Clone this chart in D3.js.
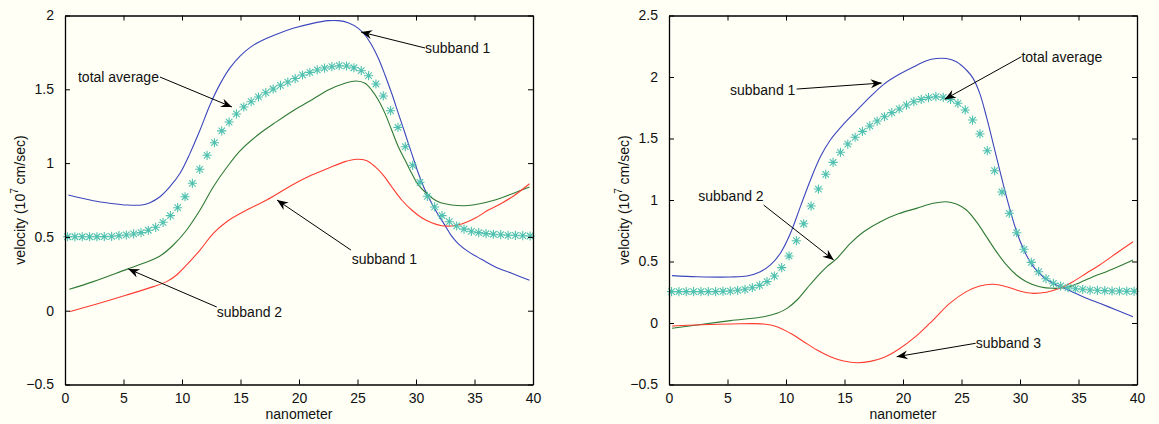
<!DOCTYPE html>
<html>
<head>
<meta charset="utf-8">
<script src="https://cdn.jsdelivr.net/npm/d3@7"></script>
<style>
  html, body { margin: 0; padding: 0; background: #fffff5; }
  svg { display: block; font-family: "Liberation Sans", Arial, Helvetica, sans-serif; }
</style>
</head>
<body>
<svg id="fig" width="1159" height="424"></svg>
<script>
// ---------------- data ----------------
const xTicks = [0, 5, 10, 15, 20, 25, 30, 35, 40];
const leftYTicks = [-0.5, 0, 0.5, 1, 1.5, 2];
const rightYTicks = [-0.5, 0, 0.5, 1, 1.5, 2, 2.5];

// sample positions (nm) of the averaged velocity
const averageX = d3.range(64).map(i => 0.22 + i * 0.6275);

// left figure
const leftAverage = [
  0.501, 0.501, 0.501, 0.501, 0.501, 0.502, 0.504, 0.508, 0.513, 0.520,
  0.529, 0.545, 0.565, 0.599, 0.644, 0.698, 0.772, 0.863, 0.958, 1.053,
  1.138, 1.218, 1.278, 1.333, 1.380, 1.416, 1.448, 1.477, 1.502, 1.527,
  1.549, 1.573, 1.597, 1.615, 1.631, 1.644, 1.653, 1.660, 1.658, 1.646,
  1.626, 1.592, 1.536, 1.455, 1.355, 1.242, 1.111, 0.985, 0.870, 0.775,
  0.703, 0.644, 0.603, 0.574, 0.553, 0.538, 0.529, 0.522, 0.518, 0.515,
  0.511, 0.511, 0.508, 0.506
];
const leftBlue = [
  [0.28, 0.784], [2.42, 0.745], [3.85, 0.728], [5.27, 0.716], [6.55, 0.716],
  [7.26, 0.732], [8.12, 0.772], [8.97, 0.840], [9.83, 0.931], [10.68, 1.066],
  [11.54, 1.224], [12.39, 1.394], [13.25, 1.535], [14.10, 1.645], [14.96, 1.725],
  [15.80, 1.782], [16.67, 1.824], [18.09, 1.873], [19.50, 1.913], [21.08, 1.945],
  [22.50, 1.965], [23.36, 1.965], [24.20, 1.951], [25.07, 1.913], [25.64, 1.868],
  [26.21, 1.800], [26.78, 1.710], [27.35, 1.597], [27.92, 1.473], [28.49, 1.337],
  [29.06, 1.202], [29.63, 1.066], [30.20, 0.931], [30.77, 0.818], [31.34, 0.728],
  [31.91, 0.648], [32.48, 0.578], [33.05, 0.505], [33.60, 0.455], [34.47, 0.400],
  [35.60, 0.348], [36.75, 0.298], [38.18, 0.253], [39.70, 0.206]
];
const leftGreen = [
  [0.37, 0.145], [2.42, 0.197], [5.27, 0.280], [6.70, 0.321], [8.12, 0.371],
  [9.26, 0.445], [10.40, 0.547], [11.54, 0.682], [12.68, 0.840], [13.82, 0.970],
  [14.96, 1.083], [16.67, 1.202], [18.09, 1.281], [19.60, 1.360], [21.08, 1.428],
  [22.50, 1.495], [23.93, 1.541], [24.90, 1.556], [25.64, 1.541], [26.21, 1.495],
  [26.78, 1.428], [27.35, 1.337], [27.92, 1.224], [28.49, 1.111], [29.06, 1.021],
  [29.63, 0.931], [30.20, 0.852], [31.05, 0.784], [31.91, 0.738], [33.05, 0.716],
  [34.19, 0.711], [35.33, 0.723], [36.75, 0.750], [38.18, 0.791], [39.70, 0.838]
];
const leftRed = [
  [0.37, -0.007], [2.42, 0.039], [5.27, 0.106], [7.55, 0.163], [8.69, 0.197],
  [9.54, 0.242], [10.40, 0.310], [11.54, 0.411], [12.68, 0.524], [13.82, 0.603],
  [15.53, 0.682], [17.24, 0.750], [19.50, 0.855], [21.08, 0.919], [22.50, 0.965],
  [23.93, 1.010], [24.90, 1.026], [25.75, 1.017], [26.50, 0.976], [27.20, 0.919],
  [27.92, 0.840], [28.78, 0.750], [29.63, 0.682], [30.49, 0.630], [31.34, 0.596],
  [32.20, 0.576], [33.05, 0.574], [33.90, 0.587], [35.04, 0.626], [36.18, 0.682],
  [37.32, 0.728], [38.46, 0.784], [39.70, 0.860]
];

// right figure
const rightAverage = [
  0.255, 0.255, 0.255, 0.255, 0.255, 0.255, 0.255, 0.258, 0.260, 0.266,
  0.274, 0.287, 0.306, 0.336, 0.382, 0.450, 0.545, 0.669, 0.807, 0.951,
  1.089, 1.209, 1.306, 1.388, 1.455, 1.510, 1.558, 1.602, 1.642, 1.677,
  1.710, 1.740, 1.772, 1.799, 1.818, 1.832, 1.840, 1.835, 1.818, 1.786,
  1.732, 1.650, 1.537, 1.401, 1.238, 1.065, 0.892, 0.734, 0.599, 0.493,
  0.417, 0.360, 0.323, 0.301, 0.287, 0.279, 0.274, 0.268, 0.266, 0.263,
  0.260, 0.260, 0.258, 0.258
];
const rightBlue = [
  [0.26, 0.385], [2.39, 0.376], [5.25, 0.374], [6.67, 0.382], [7.81, 0.417],
  [8.67, 0.472], [9.52, 0.567], [10.38, 0.729], [11.23, 0.946], [12.09, 1.163],
  [12.94, 1.352], [13.79, 1.488], [14.93, 1.618], [16.07, 1.730], [17.21, 1.840],
  [18.35, 1.940], [19.49, 2.012], [20.85, 2.080], [22.00, 2.132], [22.85, 2.150],
  [23.71, 2.150], [24.56, 2.124], [25.42, 2.057], [25.99, 1.989], [26.56, 1.867],
  [27.13, 1.677], [27.70, 1.461], [28.26, 1.244], [28.84, 1.027], [29.40, 0.837],
  [29.97, 0.675], [30.54, 0.553], [31.11, 0.463], [31.97, 0.376], [33.11, 0.309],
  [33.97, 0.275], [35.39, 0.214], [36.81, 0.160], [38.24, 0.106], [39.66, 0.051]
];
const rightGreen = [
  [0.26, -0.043], [2.39, -0.016], [5.25, 0.019], [8.09, 0.051], [9.23, 0.079],
  [10.09, 0.119], [10.94, 0.187], [11.79, 0.282], [12.65, 0.376], [13.50, 0.458],
  [14.36, 0.526], [15.50, 0.648], [16.64, 0.742], [18.07, 0.824], [19.60, 0.888],
  [21.15, 0.932], [22.57, 0.973], [23.71, 0.986], [24.56, 0.967], [25.42, 0.919],
  [26.27, 0.824], [27.13, 0.702], [27.98, 0.580], [28.84, 0.472], [29.69, 0.390],
  [30.54, 0.336], [31.68, 0.295], [32.82, 0.282], [33.97, 0.290], [35.10, 0.328],
  [36.24, 0.376], [37.38, 0.417], [38.52, 0.463], [39.66, 0.512]
];
const rightRed = [
  [0.26, -0.024], [2.39, -0.016], [5.25, -0.008], [8.09, -0.008], [9.23, -0.030],
  [10.38, -0.084], [11.52, -0.152], [12.65, -0.220], [13.79, -0.274], [14.93, -0.309],
  [16.07, -0.323], [17.21, -0.312], [18.35, -0.280], [19.60, -0.215], [21.15, -0.105],
  [22.57, 0.024], [23.99, 0.160], [25.42, 0.255], [26.56, 0.301], [27.70, 0.315],
  [28.84, 0.295], [29.97, 0.260], [31.11, 0.241], [32.26, 0.250], [33.39, 0.282],
  [34.53, 0.336], [35.67, 0.404], [36.81, 0.472], [38.24, 0.567], [39.66, 0.661]
];

// callouts: text, arrow tail, arrow head and text anchor, all in data units
const leftCallouts = [
  { text: "total average", tail: [8.12, 1.583], head: [14.27, 1.380], at: [8.03, 1.583], anchor: "end" },
  { text: "subband 1", tail: [30.77, 1.780], head: [25.30, 1.888], at: [30.77, 1.780], anchor: "start" },
  { text: "subband 1", tail: [24.44, 0.411], head: [18.12, 0.750], at: [24.50, 0.350], anchor: "start" },
  { text: "subband 2", tail: [12.97, 0.025], head: [5.41, 0.283], at: [12.97, -0.007], anchor: "start" }
];
const rightCallouts = [
  { text: "subband 1", tail: [10.91, 1.902], head: [18.18, 1.951], at: [10.80, 1.894], anchor: "end" },
  { text: "total average", tail: [30.12, 2.165], head: [23.57, 1.819], at: [30.12, 2.165], anchor: "start" },
  { text: "subband 2", tail: [8.09, 0.959], head: [14.08, 0.512], at: [8.09, 1.033], anchor: "end" },
  { text: "subband 3", tail: [26.21, -0.165], head: [19.46, -0.274], at: [26.21, -0.165], anchor: "start" }
];

// ---------------- drawing ----------------
const svg = d3.select("#fig");
const COLORS = { blue: "#3b46bd", green: "#2f7a35", red: "#ff3b30", star: "#50c1b0" };
const FONT = 14;

function fmt(v) {
  const s = String(v);
  return v < 0 ? "\u2212" + s.slice(1) : s;
}

// asterisk marker: + and x combined
function starPath(r) {
  const d = r * Math.SQRT1_2;
  return `M${-r},0L${r},0M0,${-r}L0,${r}M${-d},${-d}L${d},${d}M${-d},${d}L${d},${-d}`;
}

function arrowHead(g, x1, y1, x2, y2) {
  const a = Math.atan2(y2 - y1, x2 - x1);
  const L = 11, W = 4.5, N = 7.5;
  const pt = (dx, dy) => [x2 + dx * Math.cos(a) - dy * Math.sin(a), y2 + dx * Math.sin(a) + dy * Math.cos(a)];
  const p = [pt(0, 0), pt(-L, W), pt(-N, 0), pt(-L, -W)];
  g.append("path").attr("d", "M" + p.map(q => q.join(",")).join("L") + "Z").attr("fill", "#000");
}

function panel(opts) {
  const { left, right, top, bottom, yDomain, yTicks, average, blue, green, red, callouts } = opts;
  const x = d3.scaleLinear().domain([0, 40]).range([left, right]);
  const y = d3.scaleLinear().domain(yDomain).range([bottom, top]);
  const g = svg.append("g");

  // plot area
  g.append("rect").attr("x", left).attr("y", top).attr("width", right - left).attr("height", bottom - top)
    .attr("fill", "#fffff5");

  const line = d3.line().x(d => x(d[0])).y(d => y(d[1])).curve(d3.curveCatmullRom.alpha(0.5));
  [[blue, COLORS.blue], [green, COLORS.green], [red, COLORS.red]].forEach(([data, c]) => {
    g.append("path").datum(data).attr("d", line).attr("fill", "none")
      .attr("stroke", c).attr("stroke-width", 1.1);
  });

  // averaged velocity markers
  g.append("g").selectAll("path").data(average).join("path")
    .attr("transform", (d, i) => `translate(${x(averageX[i])},${y(d)})`)
    .attr("d", starPath(4.6))
    .attr("stroke", COLORS.star).attr("stroke-width", 1.1).attr("fill", "none");

  // axes: box with inward ticks on all four sides
  const tick = 5;
  const axBottom = d3.axisBottom(x).tickValues(xTicks).tickSizeInner(-tick).tickSizeOuter(0).tickPadding(9).tickFormat(fmt);
  const axTop = d3.axisTop(x).tickValues(xTicks).tickSizeInner(-tick).tickSizeOuter(0).tickFormat("");
  const axLeft = d3.axisLeft(y).tickValues(yTicks).tickSizeInner(-tick).tickSizeOuter(0).tickPadding(11).tickFormat(fmt);
  const axRight = d3.axisRight(y).tickValues(yTicks).tickSizeInner(-tick).tickSizeOuter(0).tickFormat("");

  const styleAxis = sel => {
    sel.select(".domain").attr("stroke", "#000").attr("stroke-width", 1.3);
    sel.selectAll(".tick line").attr("stroke", "#000").attr("stroke-width", 1);
    sel.selectAll("text").attr("font-size", FONT).attr("fill", "#111").attr("font-family", null);
  };
  g.append("g").attr("transform", `translate(0,${bottom})`).call(axBottom).call(styleAxis);
  g.append("g").attr("transform", `translate(0,${top})`).call(axTop).call(styleAxis);
  g.append("g").attr("transform", `translate(${left},0)`).call(axLeft).call(styleAxis);
  g.append("g").attr("transform", `translate(${right},0)`).call(axRight).call(styleAxis);

  // axis titles
  g.append("text").attr("x", (left + right) / 2).attr("y", bottom + 34)
    .attr("text-anchor", "middle").attr("font-size", FONT).attr("fill", "#111").text("nanometer");
  const yl = g.append("text")
    .attr("transform", `translate(${left - 45.5},${(top + bottom) / 2}) rotate(-90)`)
    .attr("text-anchor", "middle").attr("dominant-baseline", "central")
    .attr("font-size", FONT).attr("fill", "#111");
  yl.append("tspan").text("velocity (10");
  yl.append("tspan").attr("dy", -6).attr("font-size", 10).text("7");
  yl.append("tspan").attr("dy", 6).text(" cm/sec)");

  // callouts
  const cg = g.append("g");
  callouts.forEach(c => {
    const tx = x(c.tail[0]), ty = y(c.tail[1]), hx = x(c.head[0]), hy = y(c.head[1]);
    cg.append("line").attr("x1", tx).attr("y1", ty).attr("x2", hx).attr("y2", hy)
      .attr("stroke", "#000").attr("stroke-width", 1);
    arrowHead(cg, tx, ty, hx, hy);
    cg.append("text").attr("x", x(c.at[0])).attr("y", y(c.at[1]))
      .attr("text-anchor", c.anchor).attr("dominant-baseline", "central")
      .attr("font-size", FONT).attr("fill", "#111").text(c.text);
  });
}

panel({ left: 65, right: 533, top: 15.5, bottom: 384.5, yDomain: [-0.5, 2], yTicks: leftYTicks,
  average: leftAverage, blue: leftBlue, green: leftGreen, red: leftRed, callouts: leftCallouts });
panel({ left: 669, right: 1137, top: 15.5, bottom: 384.5, yDomain: [-0.5, 2.5], yTicks: rightYTicks,
  average: rightAverage, blue: rightBlue, green: rightGreen, red: rightRed, callouts: rightCallouts });
</script>
</body>
</html>
